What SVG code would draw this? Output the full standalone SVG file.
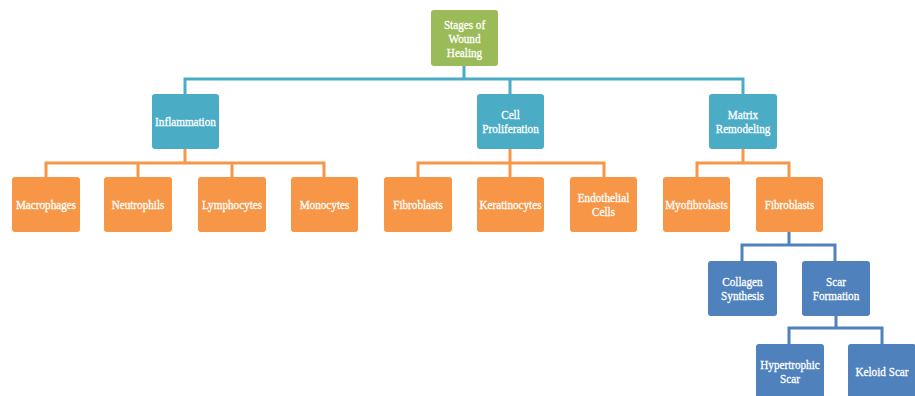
<svg xmlns="http://www.w3.org/2000/svg" width="915" height="396" viewBox="0 0 915 396">
<style>
.g{fill:#9BBB59}.b{fill:#4BACC6}.o{fill:#F79646}.d{fill:#4F81BD}
text{font-family:"Liberation Serif","Times New Roman",serif;font-size:13px;fill:#fff;text-anchor:middle;stroke:#fff;stroke-width:0.3}
.c{fill:none;stroke-width:3}
.cb{stroke:#4BACC6}.co{stroke:#F79646}.cd{stroke:#4F81BD}
</style>
<rect width="915" height="396" fill="#fff"/>
<g id="connectors">
<path class="c cb" d="M464,66V79M185,94V79H743V94M510,79V94"/>
<path class="c co" d="M185,149V163M46,177V163H324V177M138,163V177M232,163V177"/>
<path class="c co" d="M510,149V163M418,177V163H604V177M510,163V177"/>
<path class="c co" d="M743,149V163M697,177V163H789V177"/>
<path class="c cd" d="M789,232V245M742,261V245H835V261"/>
<path class="c cd" d="M836,316V328M789,344V328H882V344"/>
</g>
<g id="root"><rect class="g" x="431" y="10" width="67" height="56" rx="3"/><text transform="translate(464.5 29) scale(.86 1)">Stages of</text><text transform="translate(464.5 43) scale(.86 1)">Wound</text><text transform="translate(464.5 57) scale(.86 1)">Healing</text></g>
<g id="inflammation"><rect class="b" x="152" y="94" width="67" height="55" rx="3"/><text transform="translate(185.5 126) scale(.86 1)">Inflammation</text></g>
<g id="cell-proliferation"><rect class="b" x="477" y="94" width="67" height="55" rx="3"/><text transform="translate(510.5 119) scale(.86 1)">Cell</text><text transform="translate(510.5 133) scale(.86 1)">Proliferation</text></g>
<g id="matrix-remodeling"><rect class="b" x="709" y="94" width="68" height="55" rx="3"/><text transform="translate(743 119) scale(.86 1)">Matrix</text><text transform="translate(743 133) scale(.86 1)">Remodeling</text></g>
<g id="macrophages"><rect class="o" x="12" y="177" width="68" height="55" rx="3"/><text transform="translate(46 209) scale(.86 1)">Macrophages</text></g>
<g id="neutrophils"><rect class="o" x="104" y="177" width="68" height="55" rx="3"/><text transform="translate(138 209) scale(.86 1)">Neutrophils</text></g>
<g id="lymphocytes"><rect class="o" x="198" y="177" width="68" height="55" rx="3"/><text transform="translate(232 209) scale(.86 1)">Lymphocytes</text></g>
<g id="monocytes"><rect class="o" x="291" y="177" width="67" height="55" rx="3"/><text transform="translate(324.5 209) scale(.86 1)">Monocytes</text></g>
<g id="fibroblasts-1"><rect class="o" x="384" y="177" width="68" height="55" rx="3"/><text transform="translate(418 209) scale(.86 1)">Fibroblasts</text></g>
<g id="keratinocytes"><rect class="o" x="477" y="177" width="67" height="55" rx="3"/><text transform="translate(510.5 209) scale(.86 1)">Keratinocytes</text></g>
<g id="endothelial-cells"><rect class="o" x="570" y="177" width="67" height="55" rx="3"/><text transform="translate(603.5 202) scale(.86 1)">Endothelial</text><text transform="translate(603.5 216) scale(.86 1)">Cells</text></g>
<g id="myofibrolasts"><rect class="o" x="663" y="177" width="67" height="55" rx="3"/><text transform="translate(696.5 209) scale(.86 1)">Myofibrolasts</text></g>
<g id="fibroblasts-2"><rect class="o" x="756" y="177" width="67" height="55" rx="3"/><text transform="translate(789.5 209) scale(.86 1)">Fibroblasts</text></g>
<g id="collagen-synthesis"><rect class="d" x="708" y="261" width="69" height="55" rx="3"/><text transform="translate(742.5 286) scale(.86 1)">Collagen</text><text transform="translate(742.5 300) scale(.86 1)">Synthesis</text></g>
<g id="scar-formation"><rect class="d" x="802" y="261" width="68" height="55" rx="3"/><text transform="translate(836 286) scale(.86 1)">Scar</text><text transform="translate(836 300) scale(.86 1)">Formation</text></g>
<g id="hypertrophic-scar"><rect class="d" x="756" y="344" width="68" height="55" rx="3"/><text transform="translate(790 369) scale(.86 1)">Hypertrophic</text><text transform="translate(790 383) scale(.86 1)">Scar</text></g>
<g id="keloid-scar"><rect class="d" x="848" y="344" width="68" height="55" rx="3"/><text transform="translate(882 376) scale(.86 1)">Keloid Scar</text></g>
</svg>
